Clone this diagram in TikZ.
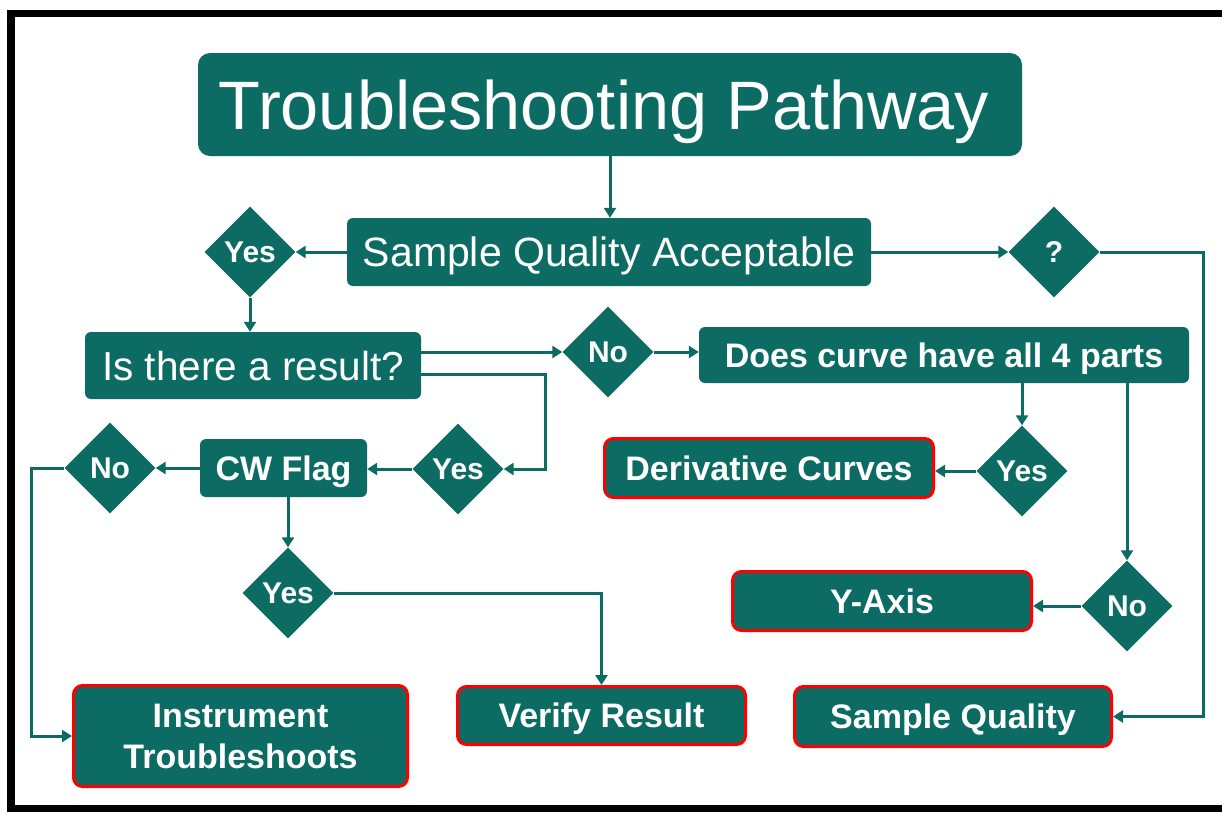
\documentclass[tikz,border=0pt]{standalone}
\usepackage{fontspec}
\setmainfont{Liberation Sans}
\usetikzlibrary{shapes.geometric,arrows.meta}
\definecolor{tealbox}{RGB}{12,108,99}
\definecolor{redline}{RGB}{255,0,0}
\begin{document}
\begin{tikzpicture}[x=1pt,y=-1pt,
  box/.style={fill=tealbox, text=white, rounded corners=6pt, inner sep=0pt,
    font=\bfseries\fontsize{34}{41}\selectfont, align=center,
    text height=24.4pt, text depth=0pt},
  redbox/.style={box, draw=redline, line width=3pt, rounded corners=9pt},
  dia/.style={diamond, fill=tealbox, text=white, inner sep=0pt,
    minimum width=91pt, minimum height=91pt,
    font=\bfseries\fontsize{30}{34}\selectfont, text height=21.5pt, text depth=0pt},
  arr/.style={draw=tealbox, line width=3pt, -{Triangle[length=10pt,width=12pt]}}]
\useasboundingbox (0,0) rectangle (1222,814);
\fill[white] (0,0) rectangle (1222,814);
\draw[line width=7.5pt] (1222,13.5) -- (11,13.5) -- (11,808.5) -- (1222,808.5);

% nodes
\node[box, rounded corners=12pt, font=\fontsize{68.5}{80}\selectfont, text height=49pt,
  minimum width=824pt, minimum height=103pt] (title) at (610,104.5) {Troubleshooting Pathway\hspace*{12pt}};
\node[box, font=\fontsize{41}{48}\selectfont, text height=29.4pt, minimum width=524pt, minimum height=68pt]
  (sqa) at (609,252) {Sample Quality Acceptable};
\node[dia] (y1) at (250,252) {Yes};
\node[dia] (q) at (1054,252) {?};
\node[box, font=\fontsize{40.5}{48}\selectfont, text height=29pt, minimum width=336pt, minimum height=67pt]
  (res) at (253,365.5) {Is there a result?};
\node[dia] (n1) at (608,352) {No};
\node[box, minimum width=490pt, minimum height=56pt] (dc) at (944,355) {Does curve have all 4 parts};
\node[dia] (y2) at (458,469) {Yes};
\node[box, minimum width=167pt, minimum height=58pt] (cw) at (283.5,468) {CW Flag};
\node[dia] (n2) at (110,468) {No};
\node[dia] (y3) at (288,593) {Yes};
\node[redbox, text height=, text depth=, minimum width=334pt, minimum height=101pt] (inst) at (240.5,736) {Instrument\\Troubleshoots};
\node[redbox, minimum width=288pt, minimum height=58pt] (vr) at (601.5,715.5) {Verify Result};
\node[dia] (y4) at (1022,471) {Yes};
\node[redbox, minimum width=329pt, minimum height=59pt] (dcv) at (769,468) {Derivative Curves};
\node[dia] (n3) at (1127,606) {No};
\node[redbox, minimum width=299pt, minimum height=59pt] (ya) at (882,601) {Y-Axis};
\node[redbox, minimum width=317pt, minimum height=60pt] (sq) at (953,716.5) {Sample Quality};

\coordinate (j1) at (545,374);
\coordinate (j2) at (31,468);
\coordinate (j3) at (1203,252);

% connectors
\draw[arr] (title.south) -- (title.south |- sqa.north);
\draw[arr] (sqa.west) -- (y1.east);
\draw[arr] (sqa.east) -- (q.west);
\draw[arr] (y1.south) -- (y1.south |- res.north);
\draw[arr] ([yshift=13.5pt]res.east) -- (n1.west);
\draw[arr] (n1.east) -- (n1.east -| dc.west);
\draw[arr] ([yshift=-8.5pt]res.east) -- (j1) |- (y2.east);
\draw[arr] (y2.west) -- (y2.west -| cw.east);
\draw[arr] (cw.west) -- (n2.east);
\draw[arr] (n2.west) -- (j2) |- (inst.west);
\draw[arr] (cw.south -| y3.north) -- (y3.north);
\draw[arr] (y3.east) -| (vr.north);
\draw[arr] (dc.south -| y4.north) -- (y4.north);
\draw[arr] (y4.west) -- (y4.west -| dcv.east);
\draw[arr] (dc.south -| n3.north) -- (n3.north);
\draw[arr] (n3.west) -- (n3.west -| ya.east);
\draw[arr] (q.east) -- (j3) |- (sq.east);
\end{tikzpicture}
\end{document}
